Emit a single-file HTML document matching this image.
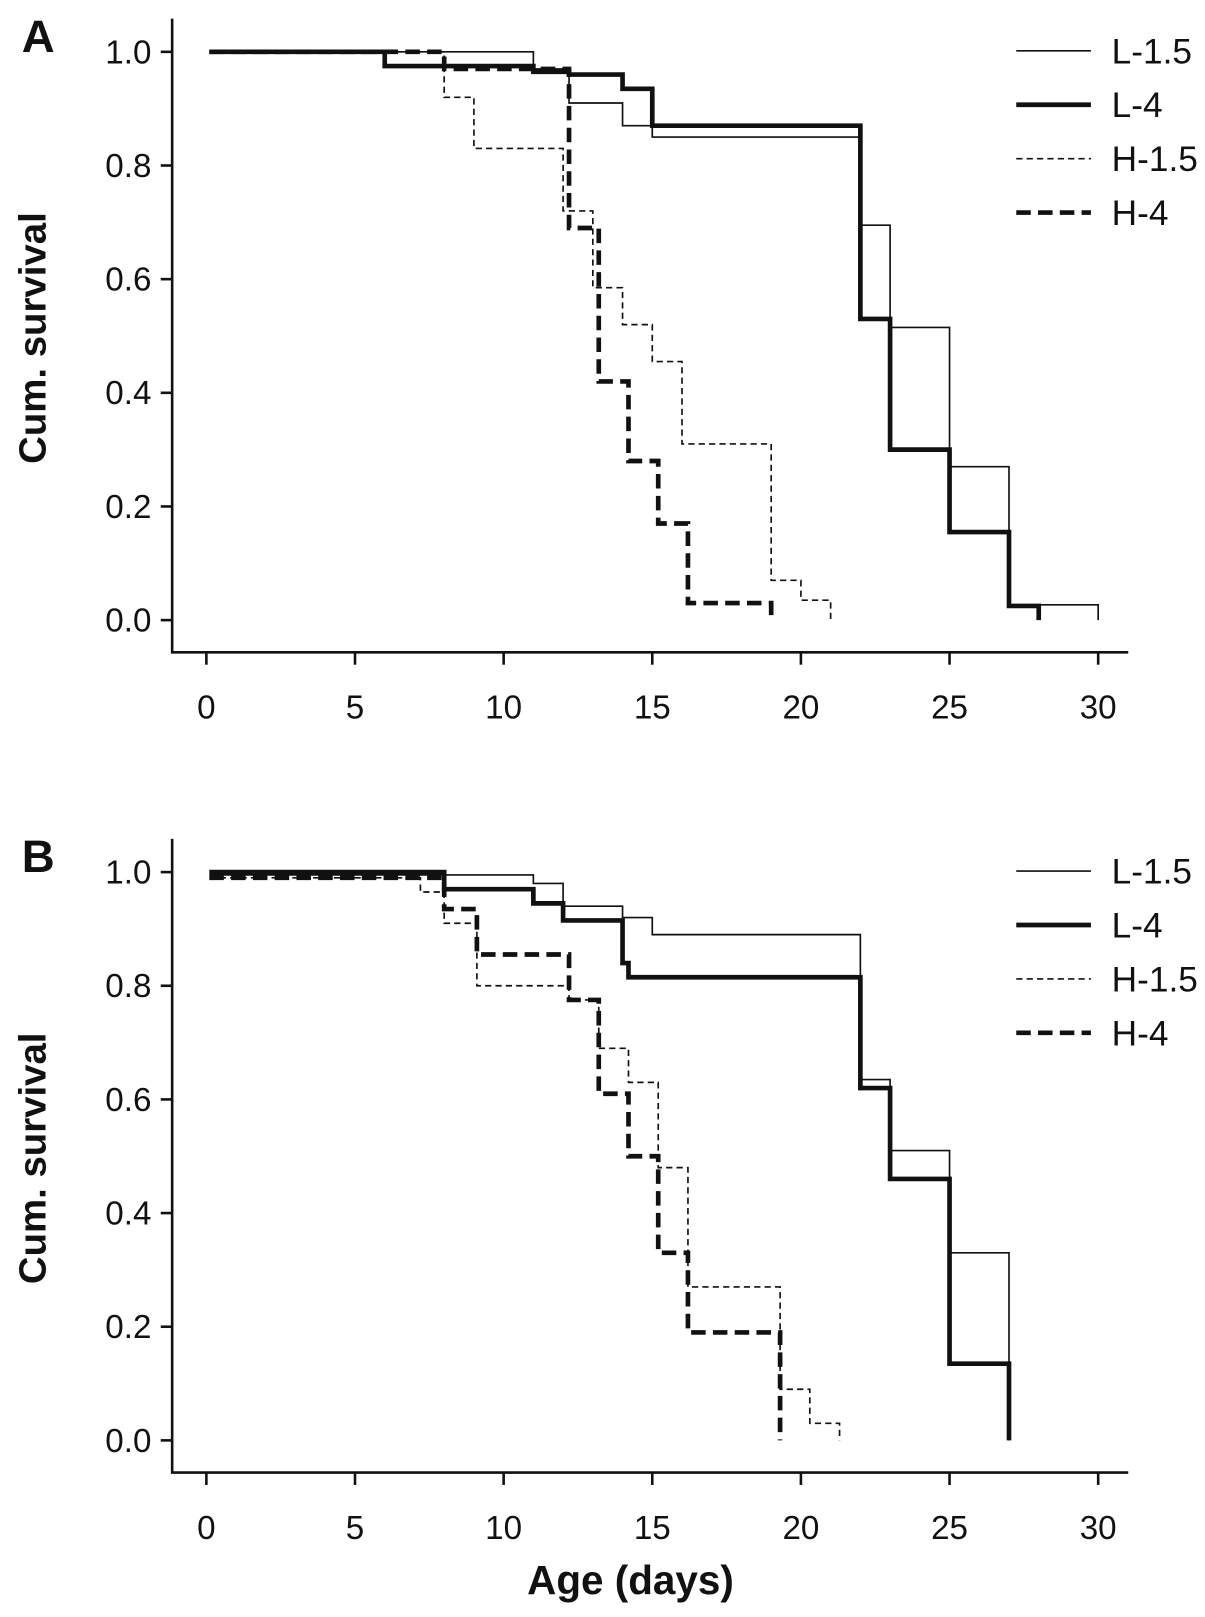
<!DOCTYPE html>
<html><head><meta charset="utf-8"><style>
html,body{margin:0;padding:0;background:#fff;}
svg text{font-family:"Liberation Sans",sans-serif;fill:#111;}
</style></head><body>
<svg id="chart" width="1205" height="1612" viewBox="0 0 1162 1554.5" xmlns="http://www.w3.org/2000/svg"></svg>
<script>
// Data: [day, survival] step points
const xTicks = [0,5,10,15,20,25,30];
const yTicks = [0.0,0.2,0.4,0.6,0.8,1.0];
const seriesNames = ["L-1.5","L-4","H-1.5","H-4"];
const A_L15 = [[0.1,1.0],[11,0.97],[12.2,0.91],[14,0.87],[15,0.85],[22,0.695],[23,0.515],[25,0.27],[27,0.027],[30,0.027]];
const A_L4  = [[0.1,1.0],[6,0.975],[11,0.965],[12.2,0.96],[14,0.935],[15,0.87],[22,0.53],[23,0.3],[25,0.155],[27,0.025],[28,0.025]];
const A_H15 = [[0.1,1.0],[8,0.92],[9,0.83],[12,0.72],[13,0.585],[14,0.52],[15,0.455],[16,0.31],[19,0.07],[20,0.035],[21,0.035]];
const A_H4  = [[0.1,1.0],[8,0.97],[12.2,0.69],[13.2,0.42],[14.2,0.28],[15.2,0.17],[16.2,0.03],[19,0.03]];
const B_L15 = [[0.1,0.995],[11,0.98],[12,0.94],[14,0.92],[15,0.89],[22,0.635],[23,0.51],[25,0.33],[27,0.0]];
const B_L4  = [[0.1,1.0],[8,0.97],[11,0.945],[12,0.915],[14,0.84],[14.2,0.815],[22,0.62],[23,0.46],[25,0.135],[27,0.0]];
const B_H15 = [[0.1,0.99],[7.2,0.965],[8,0.91],[9.1,0.8],[12.2,0.775],[13.2,0.69],[14.2,0.63],[15.2,0.48],[16.2,0.27],[19.3,0.09],[20.3,0.03],[21.3,0.03]];
const B_H4  = [[0.1,0.99],[8,0.935],[9.1,0.855],[12.2,0.775],[13.2,0.61],[14.2,0.5],[15.2,0.33],[16.2,0.19],[19.3,0.0]];

const NS="http://www.w3.org/2000/svg";
const svg=document.getElementById('chart');
function mk(tag,attrs,parent){const e=document.createElementNS(NS,tag);for(const k in attrs)e.setAttribute(k,attrs[k]);(parent||svg).appendChild(e);return e;}
const styles=[{w:1.6,d:""},{w:4.5,d:""},{w:1.6,d:"6,4"},{w:4.5,d:"14,7"}];

function panel(letter,top,data,pname){
  const g=mk('g',{});
  
  
  const y1=top+50, y0=top+598, axY=top+629;
  const sx=d=>199+d*(1059-199)/30;
  const sy=v=>y0-v*(y0-y1);
  const ax=mk('path',{d:`M166,${top+18} L166,${axY} L1088,${axY}`,stroke:'#111','stroke-width':2.5,fill:'none'},g);
  
  
  yTicks.forEach(v=>{
    mk('line',{x1:155,x2:166,y1:sy(v),y2:sy(v),stroke:'#111','stroke-width':2.5},g);
    const t=mk('text',{x:146,y:sy(v)+11,'text-anchor':'end','font-size':32},g);
    t.textContent=v.toFixed(1);
    
    
  });
  xTicks.forEach(v=>{
    mk('line',{x1:sx(v),x2:sx(v),y1:axY,y2:axY+12,stroke:'#111','stroke-width':2.5},g);
    const t=mk('text',{x:sx(v),y:axY+64,'text-anchor':'middle','font-size':32},g);
    t.textContent=v;
    
    
  });
  data.forEach((s,i)=>{
    let d=`M${sx(s[0][0])},${sy(s[0][1])}`;
    for(let k=1;k<s.length;k++){d+=` H${sx(s[k][0])} V${sy(s[k][1])}`;}
    d+=` V${sy(0)}`;
    const p=mk('path',{d:d,fill:'none',stroke:'#111','stroke-width':styles[i].w,'stroke-dasharray':styles[i].d},g);
    
    
  });
  seriesNames.forEach((n,i)=>{
    const ly=top+49+i*52;
    mk('line',{x1:980,x2:1052,y1:ly,y2:ly,stroke:'#111','stroke-width':styles[i].w,'stroke-dasharray':styles[i].d},g);
    const t=mk('text',{x:1072,y:ly+12,'font-size':34},g);
    t.textContent=n;
    
    
  });
  const L=mk('text',{x:21,y:top+50,'font-size':44,'font-weight':'bold'},g);
  L.textContent=letter;
  
  
  const yt=mk('text',{x:0,y:0,'font-size':37,'font-weight':'bold','text-anchor':'middle',transform:`translate(44,${top+326}) rotate(-90)`},g);
  yt.textContent='Cum. survival';
  
  
}
panel('A',0,[A_L15,A_L4,A_H15,A_H4],'panel-a');
panel('B',791,[B_L15,B_L4,B_H15,B_H4],'panel-b');
const xt=mk('text',{x:608,y:1537,'font-size':39,'font-weight':'bold','text-anchor':'middle'});
xt.textContent='Age (days)';


</script>
</body></html>
